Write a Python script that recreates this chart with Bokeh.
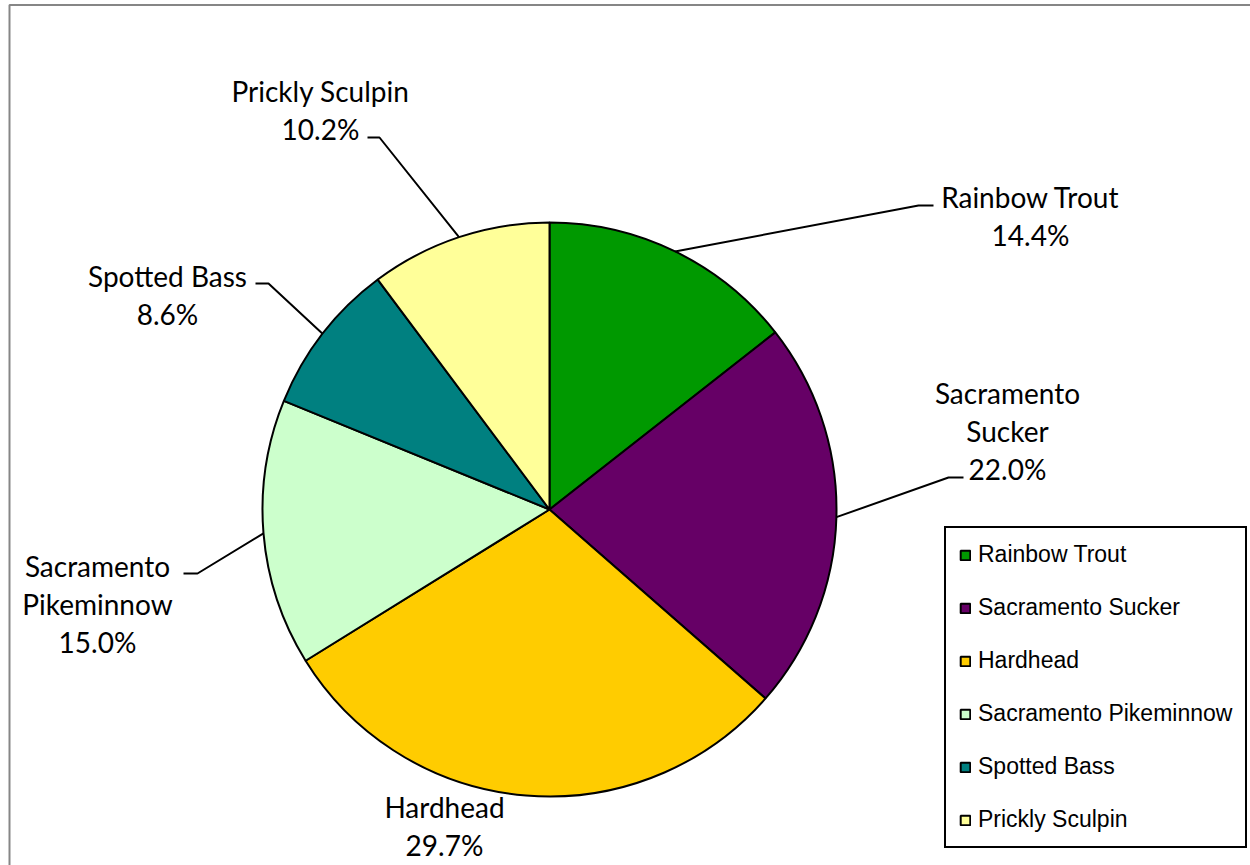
import math
from bokeh.plotting import figure
from bokeh.models import ColumnDataSource, Legend, LegendItem, BoxAnnotation, Range1d
from bokeh.core.properties import value
from bokeh.embed import file_html
from bokeh.resources import INLINE

# ---- data ----
species = ["Rainbow Trout", "Sacramento Sucker", "Hardhead",
           "Sacramento Pikeminnow", "Spotted Bass", "Prickly Sculpin"]
percent = [14.4, 22.0, 29.7, 15.0, 8.6, 10.2]
colors = ["#009900", "#660066", "#FFCC00", "#CCFFCC", "#008080", "#FFFF99"]

# ---- label layout (screen pixels, y from top) ----
label_lines = [["Rainbow Trout"], ["Sacramento", "Sucker"], ["Hardhead"],
               ["Sacramento", "Pikeminnow"], ["Spotted Bass"], ["Prickly Sculpin"]]
label_x = [1030, 1007, 444, 97, 167, 320]
label_top = [196, 392, 806, 565, 275, 90]
line_gap = 38
elbows = [[(918, 205), (933, 205)], [(948, 477), (963, 477)], None,
          [(197, 573), (183, 573)], [(268, 283), (255, 283)], [(379, 137), (367, 137)]]

W, H = 1250, 865
cx, cy, R = 549, 509, 287

def ys(y):
    return H - y

p = figure(width=W, height=H, output_backend="svg", toolbar_location=None,
           x_range=Range1d(0, W), y_range=Range1d(0, H), min_border=0)
p.axis.visible = False
p.grid.visible = False
p.outline_line_color = None
p.background_fill_color = "white"
p.border_fill_color = "white"

# outer chart border
p.add_layout(BoxAnnotation(left=9, right=W + 20, bottom=-20, top=ys(4.5),
                           fill_alpha=0, line_color="#868686", line_alpha=1, line_width=2))

total = sum(percent)
starts, ends, mids = [], [], []
cum = 0.0
for v in percent:
    a0 = cum / total
    cum += v
    a1 = cum / total
    starts.append(math.pi / 2 - 2 * math.pi * a0)
    ends.append(math.pi / 2 - 2 * math.pi * a1)
    mids.append(math.pi / 2 - 2 * math.pi * (a0 + a1) / 2)

src = ColumnDataSource(dict(start=starts, end=ends, color=colors, name=species))
r = p.wedge(x=cx, y=ys(cy), radius=R, radius_units="screen", start_angle="start",
            end_angle="end", direction="clock", fill_color="color",
            line_color="black", line_width=2, source=src)

# leader lines
xs_l, ys_l = [], []
for m, e in zip(mids, elbows):
    if e is None:
        continue
    px = cx + R * math.cos(m)
    py = ys(cy) + R * math.sin(m)
    xs_l.append([px] + [pt[0] for pt in e])
    ys_l.append([py] + [ys(pt[1]) for pt in e])
p.multi_line(xs=xs_l, ys=ys_l, line_color="black", line_width=2)

# labels
tx, ty, tt = [], [], []
for lines, x0, y0, v in zip(label_lines, label_x, label_top, percent):
    allines = lines + [f"{v:.1f}%"]
    for k, s in enumerate(allines):
        tx.append(x0)
        ty.append(ys(y0 + k * line_gap))
        tt.append(s)
p.text(x=tx, y=ty, text=tt, text_align="center", text_baseline="middle",
       text_font=value("Lato"), text_font_size="28px", text_color="black")

legend = Legend(items=[LegendItem(label=s, renderers=[r], index=i) for i, s in enumerate(species)],
                location=(944, ys(848)), orientation="vertical",
                border_line_color="black", border_line_alpha=1, border_line_width=2,
                padding=13, spacing=26, margin=0,
                glyph_width=12, glyph_height=12, label_standoff=7,
                label_text_font="Liberation Sans", label_text_font_size="23px",
                label_text_color="black",
                label_height=20, background_fill_color="white", background_fill_alpha=1)
p.add_layout(legend)

open("out.html", "w").write(file_html(p, INLINE))
